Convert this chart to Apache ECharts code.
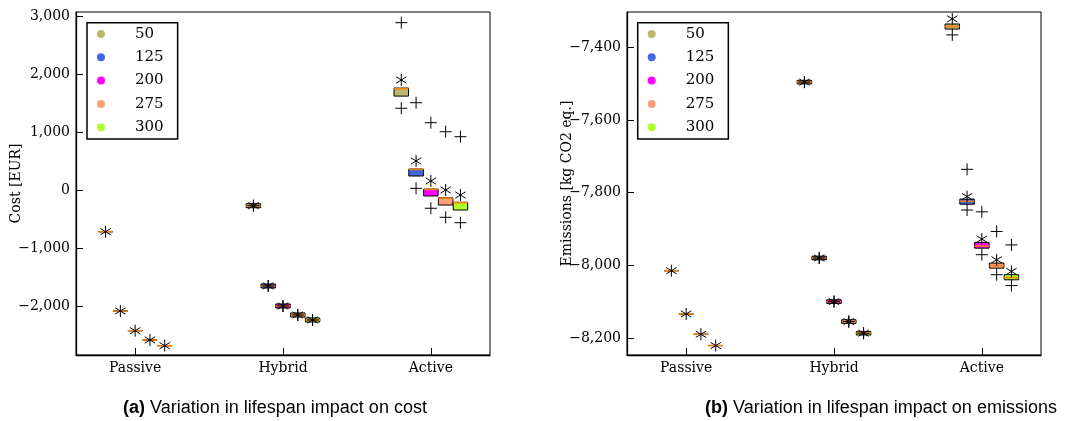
<!DOCTYPE html>
<html><head><meta charset="utf-8">
<script src="https://cdn.jsdelivr.net/npm/echarts@6/dist/echarts.min.js"></script>
<style>html,body{margin:0;padding:0;background:#fff}#c{width:1065px;height:421px}</style>
</head><body><div id="c"></div><script>
const categories = ['Passive', 'Hybrid', 'Active'];
const lifespans = ['50', '125', '200', '275', '300'];
const lifespanColors = ['#bdb76b', '#4169e1', '#ff00ff', '#ffa07a', '#adff2f'];

// Cost [EUR]; rows = lifespan (50..300), columns = Passive, Hybrid, Active
const costQ1     = [[-707, -294, 1631], [-2074, -1678, 253], [-2414, -2023, -91], [-2574, -2178, -247], [-2672, -2264, -333]];
const costMedian = [[-707, -259, 1760], [-2074, -1643, 368], [-2414, -1988, 23],  [-2574, -2143, -127], [-2672, -2229, -206]];
const costQ3     = [[-707, -224, 1770], [-2074, -1608, 374], [-2414, -1953, 29],  [-2574, -2108, -121], [-2672, -2194, -200]];
const costMean   = [[-707, -259, 1909], [-2074, -1643, 512], [-2414, -1988, 167], [-2574, -2143, 12],   [-2672, -2229, -74]];
// outliers: [lifespan index, category index, value]
const costOutliers = [
  [0, 1, -259], [1, 1, -1643], [2, 1, -1988], [3, 1, -2143], [4, 1, -2229],
  [0, 2, 2897], [0, 2, 1421], [1, 2, 1517], [1, 2, 41], [2, 2, 1172], [2, 2, -303],
  [3, 2, 1017], [3, 2, -459], [4, 2, 931], [4, 2, -552]
];
const costTicks = [-2000, -1000, 0, 1000, 2000, 3000];

// Emissions [kg CO2 eq.]
const emQ1     = [[-7535, -7501, -7350], [-8015, -7985, -7832], [-8134, -8105, -7953], [-8190, -8160, -8008], [-8221, -8192, -8040]];
const emMedian = [[-7535, -7496, -7343], [-8015, -7980, -7824], [-8134, -8100, -7947], [-8190, -8155, -8001], [-8221, -8187, -8034]];
const emQ3     = [[-7535, -7491, -7336], [-8015, -7975, -7818], [-8134, -8095, -7937], [-8190, -8150, -7994], [-8221, -8182, -8026]];
const emMean   = [[-7535, -7496, -7322], [-8015, -7980, -7811], [-8134, -8100, -7928], [-8190, -8155, -7985], [-8221, -8187, -8017]];
const emOutliers = [
  [0, 1, -7496], [1, 1, -7980], [2, 1, -8100], [3, 1, -8155], [4, 1, -8187],
  [0, 2, -7366], [1, 2, -7736], [1, 2, -7848], [2, 2, -7853], [2, 2, -7971],
  [3, 2, -7907], [3, 2, -8026], [4, 2, -7944], [4, 2, -8056]
];
const emTicks = [-8200, -8000, -7800, -7600, -7400];

const SERIF = 'DejaVu Serif';
const OFFSETS = [-0.2, -0.1, 0, 0.1, 0.2];
const HALF = 0.049;
const R = 6;

function fmt(v) {
  const s = String(Math.abs(Math.round(v))).replace(/\B(?=(\d{3})+(?!\d))/g, ',');
  return (v < 0 ? '\u2212' : '') + s;
}

function boxSeries(q1, med, q3, k, gi) {
  return {
    type: 'custom', name: lifespans[k], xAxisIndex: gi, yAxisIndex: gi, z: 3,
    itemStyle: { color: lifespanColors[k] },
    data: categories.map((c, i) => [i, q1[k][i], med[k][i], q3[k][i]]),
    encode: { x: 0, y: [1, 2, 3] },
    renderItem: (params, api) => {
      const x = api.value(0) + OFFSETS[k];
      const a = api.coord([x - HALF, api.value(3)]);
      const b = api.coord([x + HALF, api.value(1)]);
      const m = api.coord([x, api.value(2)]);
      return { type: 'group', children: [
        { type: 'rect', shape: { x: a[0], y: a[1], width: b[0] - a[0], height: Math.max(b[1] - a[1], 0) },
          style: { fill: lifespanColors[k], stroke: '#000', lineWidth: 1 } },
        { type: 'line', shape: { x1: a[0], y1: m[1], x2: b[0], y2: m[1] },
          style: { stroke: '#f08010', lineWidth: 1.6 } }
      ]};
    }
  };
}

function markerSeries(points, shape, gi, name) {
  return {
    type: 'custom', name: name, xAxisIndex: gi, yAxisIndex: gi, z: 5,
    data: points, encode: { x: 0, y: 1 },
    renderItem: (params, api) => {
      const p = api.coord([api.value(0), api.value(1)]);
      const st = { stroke: '#000', lineWidth: 1 };
      const ch = [{ type: 'line', shape: { x1: p[0], y1: p[1] - R, x2: p[0], y2: p[1] + R }, style: st }];
      if (shape === 'plus') {
        ch.push({ type: 'line', shape: { x1: p[0] - R, y1: p[1], x2: p[0] + R, y2: p[1] }, style: st });
      } else {
        const dx = 5.2, dy = 3.2;
        ch.push({ type: 'line', shape: { x1: p[0] - dx, y1: p[1] - dy, x2: p[0] + dx, y2: p[1] + dy }, style: st });
        ch.push({ type: 'line', shape: { x1: p[0] - dx, y1: p[1] + dy, x2: p[0] + dx, y2: p[1] - dy }, style: st });
      }
      return { type: 'group', children: ch };
    }
  };
}

function meanPoints(mean) {
  const pts = [];
  mean.forEach((row, k) => row.forEach((v, i) => pts.push([i + OFFSETS[k], v])));
  return pts;
}
function outlierPoints(out) {
  return out.map(o => [o[1] + OFFSETS[o[0]], o[2]]);
}

const series = [];
lifespans.forEach((l, k) => series.push(boxSeries(costQ1, costMedian, costQ3, k, 0)));
lifespans.forEach((l, k) => series.push(boxSeries(emQ1, emMedian, emQ3, k, 1)));
series.push(markerSeries(outlierPoints(costOutliers), 'plus', 0, 'out0'));
series.push(markerSeries(meanPoints(costMean), 'star', 0, 'mean0'));
series.push(markerSeries(outlierPoints(emOutliers), 'plus', 1, 'out1'));
series.push(markerSeries(meanPoints(emMean), 'star', 1, 'mean1'));

function xAxisCfg(gi) {
  return {
    gridIndex: gi, type: 'value', min: -0.4, max: 2.4, position: 'bottom',
    axisLine: { show: true, onZero: false, lineStyle: { color: '#000', width: 1.3 } },
    axisTick: { show: true, inside: true, length: 7, lineStyle: { color: '#000' }, customValues: [0, 1, 2] },
    axisLabel: { customValues: [0, 1, 2], formatter: v => (Math.abs(v - Math.round(v)) < 1e-6 ? categories[Math.round(v)] || '' : ''),
      fontFamily: SERIF, fontSize: 14, color: '#000', margin: 6 },
    splitLine: { show: false }
  };
}
function yAxisCfg(gi, min, max, ticks, name) {
  return {
    gridIndex: gi, type: 'value', min: min, max: max, name: name, position: 'left',
    nameLocation: 'middle', nameGap: 53, nameMoveOverlap: false,
    nameTextStyle: { fontFamily: SERIF, fontSize: 14, color: '#000' },
    axisLine: { show: true, onZero: false, lineStyle: { color: '#000', width: 1.3 } },
    axisTick: { show: true, inside: true, length: 7, lineStyle: { color: '#000' }, customValues: ticks },
    axisLabel: { customValues: ticks, formatter: v => (ticks.indexOf(v) >= 0 ? fmt(v) : ''),
      fontFamily: SERIF, fontSize: 14, color: '#000', margin: 6 },
    splitLine: { show: false }
  };
}
function legendCfg(left) {
  return {
    data: lifespans, orient: 'vertical', left: left, top: 22.7, icon: 'circle',
    itemWidth: 14, itemHeight: 8, itemGap: 8.3, padding: [3.8, 14, 4.3, 10],
    backgroundColor: '#fff', borderColor: '#000', borderWidth: 1.5, borderRadius: 0,
    selectedMode: false, z: 10,
    textStyle: { fontFamily: SERIF, fontSize: 15, color: '#000', lineHeight: 15, padding: [0, 0, 0, 22] }
  };
}

const chart = echarts.init(document.getElementById('c'));
chart.setOption({
  animation: false,
  backgroundColor: '#fff',
  grid: [
    { left: 76, top: 12, width: 414, height: 343, show: true, borderColor: '#000', borderWidth: 1, backgroundColor: 'transparent' },
    { left: 627, top: 12, width: 414, height: 343, show: true, borderColor: '#000', borderWidth: 1, backgroundColor: 'transparent' }
  ],
  xAxis: [xAxisCfg(0), xAxisCfg(1)],
  yAxis: [
    yAxisCfg(0, -2833, 3081, costTicks, 'Cost [EUR]'),
    yAxisCfg(1, -8247, -7303, emTicks, 'Emissions [kg CO2 eq.]')
  ],
  legend: [legendCfg(87), legendCfg(637.7)],
  graphic: [
    { type: 'text', x: 275, y: 408, style: { text: '{b|(a)} Variation in lifespan impact on cost', align: 'center', verticalAlign: 'middle',
      fontFamily: 'Liberation Sans', fontSize: 18, fill: '#000', rich: { b: { fontWeight: 'bold', fontFamily: 'Liberation Sans', fontSize: 18 } } } },
    { type: 'text', x: 881, y: 408, style: { text: '{b|(b)} Variation in lifespan impact on emissions', align: 'center', verticalAlign: 'middle',
      fontFamily: 'Liberation Sans', fontSize: 18, fill: '#000', rich: { b: { fontWeight: 'bold', fontFamily: 'Liberation Sans', fontSize: 18 } } } }
  ],
  series: series
});
</script></body></html>
